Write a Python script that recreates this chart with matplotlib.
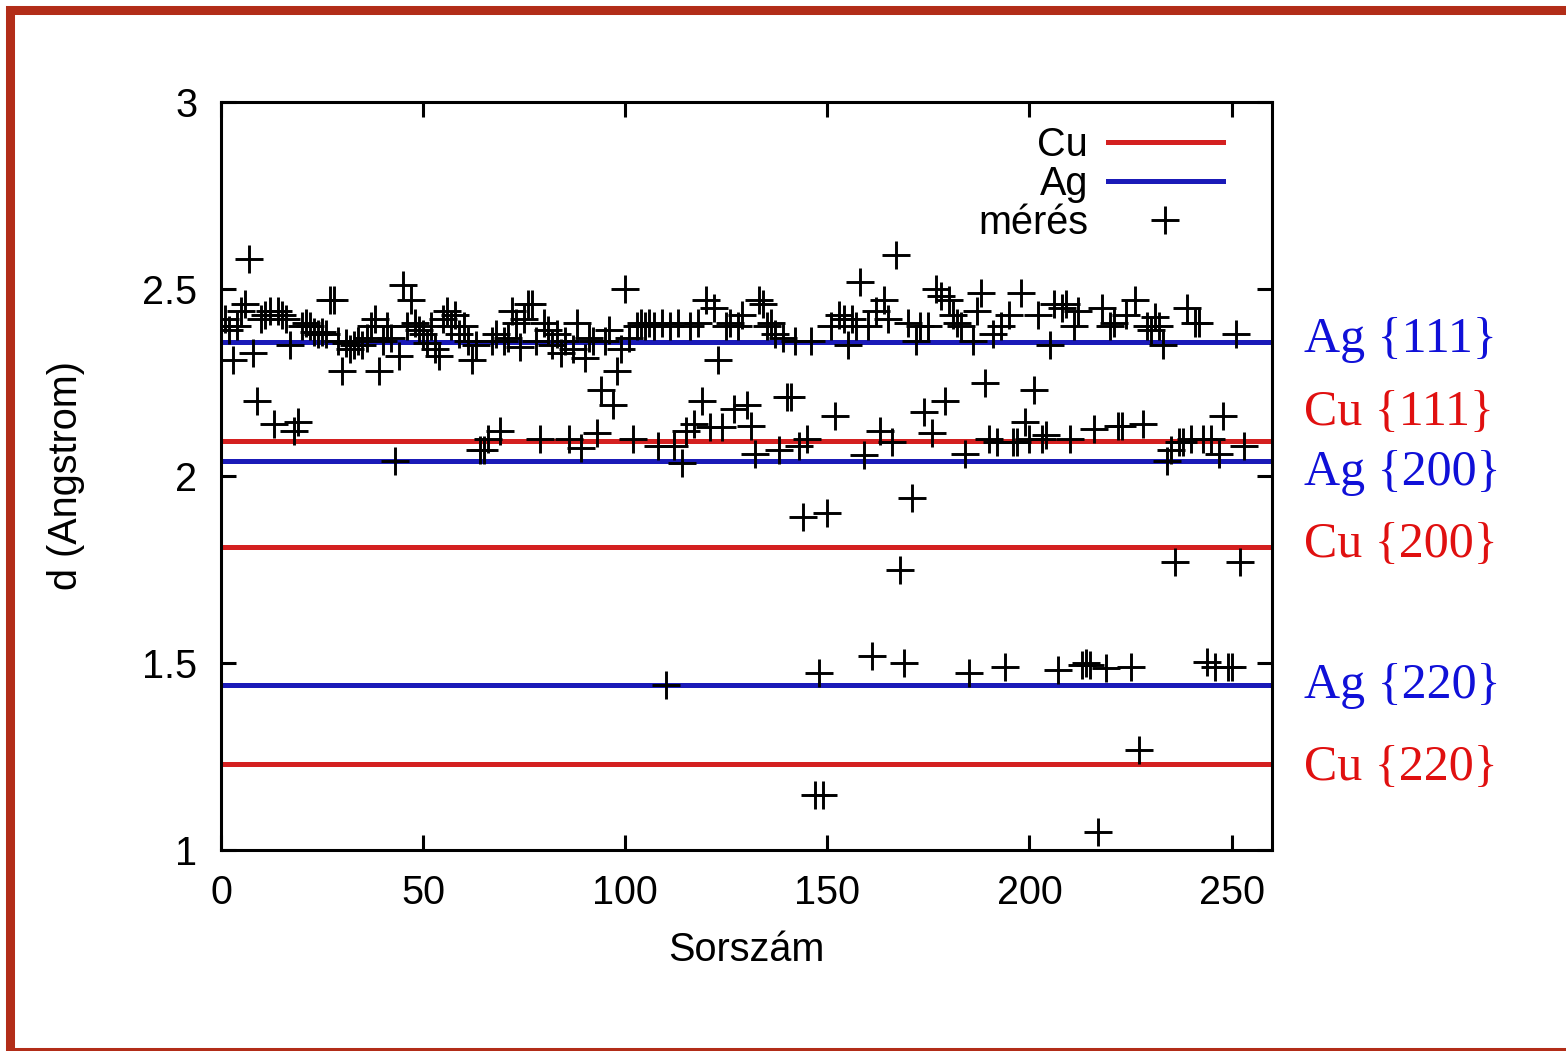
"""Cu/Ag lattice-plane spacings vs. measured d values (gnuplot-style recreation)."""

import matplotlib

matplotlib.use("Agg")
import matplotlib.pyplot as plt
from matplotlib.patches import Rectangle

# measured interplanar spacings, one per index (Sorszám)
meres_d = [
    2.40, 2.42, 2.39, 2.31, 2.40, 2.44, 2.46, 2.58, 2.33, 2.20,
    2.42, 2.43, 2.44, 2.14, 2.44, 2.43, 2.42, 2.35, 2.12, 2.145,
    2.40, 2.41, 2.40, 2.385, 2.38, 2.385, 2.38, 2.47, 2.47, 2.36,
    2.28, 2.355, 2.34, 2.35, 2.36, 2.35, 2.37, 2.40, 2.42, 2.28,
    2.36, 2.40, 2.37, 2.04, 2.32, 2.51, 2.40, 2.47, 2.41, 2.39,
    2.38, 2.355, 2.40, 2.34, 2.32, 2.42, 2.44, 2.40, 2.43, 2.38,
    2.40, 2.36, 2.31, 2.35, 2.07, 2.07, 2.10, 2.36, 2.38, 2.12,
    2.36, 2.37, 2.44, 2.41, 2.345, 2.42, 2.46, 2.46, 2.36, 2.10,
    2.41, 2.39, 2.35, 2.38, 2.33, 2.36, 2.10, 2.34, 2.41, 2.075,
    2.315, 2.37, 2.36, 2.115, 2.23, 2.36, 2.39, 2.19, 2.28, 2.34,
    2.50, 2.37, 2.10, 2.40, 2.41, 2.40, 2.41, 2.40, 2.08, 2.41,
    1.441, 2.40, 2.08, 2.41, 2.035, 2.12, 2.40, 2.14, 2.41, 2.20,
    2.47, 2.13, 2.45, 2.31, 2.13, 2.40, 2.41, 2.18, 2.40, 2.43,
    2.19, 2.135, 2.06, 2.47, 2.46, 2.40, 2.41, 2.38, 2.07, 2.37,
    2.21, 2.21, 2.36, 2.08, 1.89, 2.10, 2.36, 1.147, 1.473, 1.147,
    1.90, 2.40, 2.16, 2.43, 2.42, 2.35, 2.42, 2.40, 2.52, 2.056,
    2.40, 1.52, 2.44, 2.12, 2.47, 2.42, 2.09, 2.59, 1.75, 1.50,
    2.41, 1.94, 2.36, 2.40, 2.17, 2.40, 2.115, 2.50, 2.48, 2.20,
    2.47, 2.43, 2.41, 2.40, 2.06, 1.473, 2.36, 2.44, 2.49, 2.25,
    2.10, 2.38, 2.09, 2.40, 1.49, 2.43, 2.09, 2.09, 2.49, 2.145,
    2.10, 2.23, 2.43, 2.10, 2.11, 2.35, 2.46, 1.48, 2.45, 2.46,
    2.10, 2.40, 2.44, 1.495, 1.50, 1.495, 2.125, 1.048, 2.45, 1.487,
    2.40, 2.41, 2.135, 2.135, 2.43, 1.49, 2.47, 1.267, 2.14, 2.40,
    2.39, 2.425, 2.40, 2.35, 2.04, 2.07, 1.77, 2.09, 2.09, 2.45,
    2.10, 2.41, 2.41, 2.10, 1.503, 2.10, 1.49, 2.06, 2.16, 1.49,
    1.49, 2.38, 1.77, 2.08,
]
meres_idx = list(range(len(meres_d)))

# reference spacings (Angstrom)
planes = ["{111}", "{200}", "{220}"]
cu_d = [2.094, 1.81, 1.23]
ag_d = [2.358, 2.04, 1.441]

# right-hand annotations: text, colour key, y where the label sits
side_labels = [
    ("Ag {111}", "ag", 2.364),
    ("Cu {111}", "cu", 2.168),
    ("Ag {200}", "ag", 2.008),
    ("Cu {200}", "cu", 1.815),
    ("Ag {220}", "ag", 1.439),
    ("Cu {220}", "cu", 1.219),
]

RED = "#d42020"
BLUE = "#1a1ab8"
TXT_RED = "#e01010"
TXT_BLUE = "#1010d8"
FRAME = "#b22d18"
SANS = ["Liberation Sans", "DejaVu Sans"]
SERIF = ["Liberation Serif", "DejaVu Serif"]
FS = 28.5

plt.rcParams["font.family"] = SANS

W, H = 1566, 1051
fig = plt.figure(figsize=(W / 100, H / 100), dpi=100)
ax = fig.add_axes([221 / W, 1 - 850 / H, 1051 / W, 748 / H])

for i, d in enumerate(cu_d):
    ax.axhline(d, color=RED, lw=3.6, label="Cu" if i == 0 else None, zorder=2)
for i, d in enumerate(ag_d):
    ax.axhline(d, color=BLUE, lw=3.6, label="Ag" if i == 0 else None, zorder=2)
ax.plot(meres_idx, meres_d, "+", color="black", ms=20, mew=2.1,
        label="mérés", zorder=3)

ax.set_xlim(0, 260)
ax.set_ylim(1, 3)
ax.set_xticks([0, 50, 100, 150, 200, 250])
ax.set_yticks([1, 1.5, 2, 2.5, 3])
ax.set_yticklabels(["1", "1.5", "2", "2.5", "3"])
ax.tick_params(direction="in", top=True, right=True, length=11, width=2.2,
               labelsize=FS)
ax.tick_params(axis="x", pad=17)
ax.tick_params(axis="y", pad=17)
for sp in ax.spines.values():
    sp.set_linewidth(2.2)
ax.set_xlabel("Sorszám", fontsize=FS, labelpad=14)
ax.set_ylabel("d (Angstrom)", fontsize=FS, labelpad=41)

ax.legend(loc="upper right", bbox_to_anchor=(0.953, 0.968), frameon=False,
          markerfirst=False, fontsize=FS, handlelength=2.9,
          handletextpad=0.5, labelspacing=0.02, borderaxespad=0,
          borderpad=0)

for text, key, y in side_labels:
    ax.text(1.03, y, text, transform=ax.get_yaxis_transform(),
            ha="left", va="center", fontsize=36, family=SERIF,
            color=TXT_BLUE if key == "ag" else TXT_RED, clip_on=False)

# dark red frame round the slide (right and bottom edges run off the picture)
fig.patches.append(Rectangle((9.5 / W, -1 / H), (W - 9.5 + 1) / W,
                             (H - 9.5 + 1) / H, transform=fig.transFigure,
                             fill=False, edgecolor=FRAME, lw=6.5))

fig.savefig("out.png", dpi=100)
